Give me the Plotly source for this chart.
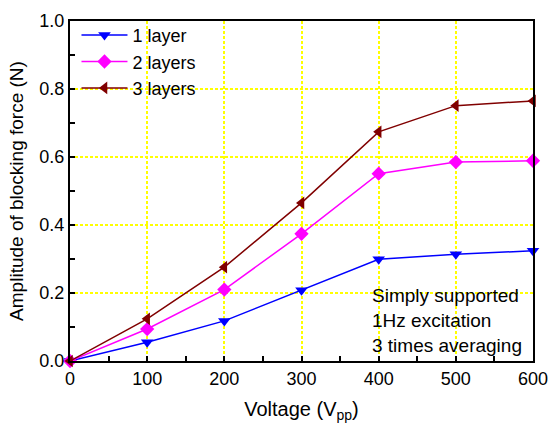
import plotly.graph_objects as go

voltage = [0, 100, 200, 300, 400, 500, 600]
layer1 = [0.0, 0.055, 0.118, 0.208, 0.299, 0.314, 0.324]
layer2 = [0.0, 0.094, 0.210, 0.374, 0.551, 0.585, 0.589]
layer3 = [0.0, 0.124, 0.276, 0.465, 0.674, 0.751, 0.765]

series = [
    ("1 layer", layer1, "#0000ff", "triangle-down"),
    ("2 layers", layer2, "#ff00ff", "diamond"),
    ("3 layers", layer3, "#800000", "triangle-left"),
]

FONT = "Liberation Sans, Arial, sans-serif"

fig = go.Figure()
for i, (name, vals, color, sym) in enumerate(series):
    fig.add_trace(go.Scatter(
        x=voltage, y=vals, name=name, mode="lines+markers",
        line=dict(color=color, width=1.5),
        marker=dict(symbol=sym, size=11, color=color),
        legendgroup=f"g{i}", cliponaxis=False,
    ))

axis_common = dict(
    showline=True, linecolor="black", linewidth=2, mirror=True,
    ticks="inside", ticklen=5, tickwidth=1.5, tickcolor="black",
    showgrid=True, gridcolor="#ffff00", griddash="3px,2px", gridwidth=1.5,
    zeroline=False, automargin=False,
    tickfont=dict(family=FONT, size=18, color="black"),
)

fig.update_xaxes(
    range=[0, 600], dtick=100, tick0=0,
    minor=dict(ticks="inside", dtick=50, ticklen=5, tickcolor="black", showgrid=False),
    title=dict(text="Voltage (V<sub>pp</sub>)", font=dict(family=FONT, size=20, color="black"), standoff=14),
    **axis_common,
)
fig.update_yaxes(
    range=[0, 1.0], dtick=0.2, tick0=0, tickformat=".1f",
    minor=dict(ticks="inside", dtick=0.1, ticklen=5, tickcolor="black", showgrid=False),
    title=dict(text="Amplitude of blocking force (N)", font=dict(family=FONT, size=19, color="black"), standoff=11),
    **axis_common,
)

notes = ["Simply supported", "1Hz excitation", "3 times averaging"]
for k, t in enumerate(notes):
    fig.add_annotation(
        text=t, xref="paper", yref="paper",
        x=(370 - 70) / 463, y=(361 - (295 + 25 * k)) / 340,
        xanchor="left", yanchor="middle", showarrow=False,
        font=dict(family=FONT, size=19, color="black"),
    )

fig.update_layout(
    width=549, height=426,
    margin=dict(l=70, r=16, t=21, b=65),
    paper_bgcolor="white", plot_bgcolor="white",
    font=dict(family=FONT, size=18, color="black"),
    legend=dict(
        x=0.014, y=1.012, xanchor="left", yanchor="top",
        bgcolor="rgba(0,0,0,0)", borderwidth=0,
        font=dict(family=FONT, size=18, color="black"),
        tracegroupgap=0, itemwidth=46,
    ),
)

fig.write_html("out.html")
